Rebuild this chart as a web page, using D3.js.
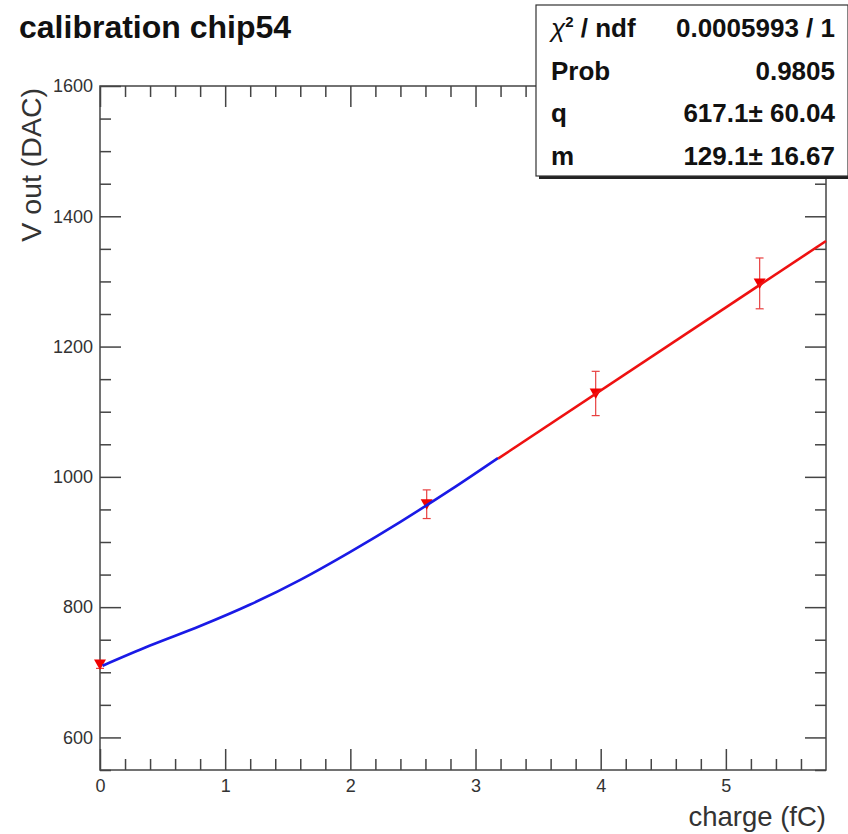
<!DOCTYPE html>
<html>
<head>
<meta charset="utf-8">
<script src="https://cdn.jsdelivr.net/npm/d3@7"></script>
<style>
  body { margin: 0; background: #fff; }
  svg { display: block; font-family: "Liberation Sans", Arial, Helvetica, sans-serif; }
</style>
</head>
<body>
<div id="chart"></div>
<script>
// measured points (charge in fC, Vout in DAC)
const pointCharge = [0, 2.61, 3.96, 5.27];
const pointVout = [712, 958, 1128, 1297];
const pointErr = [6, 22, 34, 39];

// low range fit (blue curve)
const blueCharge = [0.02, 0.4, 0.8, 1.2, 1.6, 2.0, 2.4, 2.8, 3.18];
const blueVout = [710, 741, 771, 804, 842, 885, 931, 980, 1029];

// linear fit q + m*x (red line)
const redCharge = [3.18, 5.8];
const redVout = [1028, 1362];

const xMajor = [0, 1, 2, 3, 4, 5];
const yMajor = [600, 800, 1000, 1200, 1400, 1600];

const statLabels = ["/ ndf", "Prob", "q", "m"];
const statValues = ["0.0005993 / 1", "0.9805", "617.1\u00b1 60.04", "129.1\u00b1 16.67"];

const width = 848, height = 834;
const frame = { left: 100, right: 826, top: 86, bottom: 770 };

const svg = d3.select("#chart").append("svg")
  .attr("width", width)
  .attr("height", height);

const x = d3.scaleLinear().domain([0, 5.8]).range([frame.left, frame.right]);
const y = d3.scaleLinear().domain([550, 1600]).range([frame.bottom, frame.top]);

const xMinor = d3.range(0, 5.8, 0.2).filter(v => Math.abs(v - Math.round(v)) > 1e-6);
const yMinor = d3.range(550, 1601, 50).filter(v => v % 200 !== 0);

const axisColor = "#444";

// frame
svg.append("rect")
  .attr("x", frame.left).attr("y", frame.top)
  .attr("width", frame.right - frame.left)
  .attr("height", frame.bottom - frame.top)
  .attr("fill", "none")
  .attr("stroke", axisColor)
  .attr("stroke-width", 1.5);

function styleAxis(g) {
  g.select(".domain").remove();
  g.selectAll(".tick line").attr("stroke", axisColor).attr("stroke-width", 1.5);
  g.selectAll(".tick text")
    .attr("fill", "#333")
    .style("font-size", "18px");
}

// bottom
svg.append("g").attr("transform", `translate(0,${frame.bottom})`)
  .call(d3.axisBottom(x).tickValues(xMajor).tickSize(-21).tickPadding(9).tickFormat(d3.format("d")))
  .call(styleAxis);
svg.append("g").attr("transform", `translate(0,${frame.bottom})`)
  .call(d3.axisBottom(x).tickValues(xMinor).tickSize(-11).tickFormat(""))
  .call(styleAxis);
// top
svg.append("g").attr("transform", `translate(0,${frame.top})`)
  .call(d3.axisTop(x).tickValues(xMajor).tickSize(-21).tickFormat(""))
  .call(styleAxis);
svg.append("g").attr("transform", `translate(0,${frame.top})`)
  .call(d3.axisTop(x).tickValues(xMinor).tickSize(-11).tickFormat(""))
  .call(styleAxis);
// left
svg.append("g").attr("transform", `translate(${frame.left},0)`)
  .call(d3.axisLeft(y).tickValues(yMajor).tickSize(-21).tickPadding(7).tickFormat(d3.format("d")))
  .call(styleAxis);
svg.append("g").attr("transform", `translate(${frame.left},0)`)
  .call(d3.axisLeft(y).tickValues(yMinor).tickSize(-11).tickFormat(""))
  .call(styleAxis);
// right
svg.append("g").attr("transform", `translate(${frame.right},0)`)
  .call(d3.axisRight(y).tickValues(yMajor).tickSize(-21).tickFormat(""))
  .call(styleAxis);
svg.append("g").attr("transform", `translate(${frame.right},0)`)
  .call(d3.axisRight(y).tickValues(yMinor).tickSize(-11).tickFormat(""))
  .call(styleAxis);

// axis titles
svg.append("text")
  .attr("x", frame.right).attr("y", 826)
  .attr("text-anchor", "end")
  .attr("fill", "#333")
  .style("font-size", "27.5px")
  .text("charge (fC)");

svg.append("text")
  .attr("transform", `translate(41,${frame.top + 2}) rotate(-90)`)
  .attr("text-anchor", "end")
  .attr("fill", "#333")
  .style("font-size", "28.5px")
  .text("V out (DAC)");

// title
svg.append("text")
  .attr("x", 19).attr("y", 38)
  .attr("fill", "#111")
  .style("font-size", "32px")
  .style("font-weight", "bold")
  .text("calibration chip54");

// data points with error bars
const points = pointCharge.map((c, i) => ({ c: c, v: pointVout[i], e: pointErr[i] }));
const red = "#f00000";

const pg = svg.append("g");
pg.selectAll("line.err")
  .data(points)
  .join("line")
  .attr("class", "err")
  .attr("x1", d => x(d.c)).attr("x2", d => x(d.c))
  .attr("y1", d => y(d.v - d.e)).attr("y2", d => y(d.v + d.e))
  .attr("stroke", "#e84040").attr("stroke-width", 1.2);
[-1, 1].forEach(s => {
  pg.selectAll("line.cap" + (s + 1))
    .data(points)
    .join("line")
    .attr("class", "cap" + (s + 1))
    .attr("x1", d => x(d.c) - 4).attr("x2", d => x(d.c) + 4)
    .attr("y1", d => y(d.v + s * d.e)).attr("y2", d => y(d.v + s * d.e))
    .attr("stroke", "#e84040").attr("stroke-width", 1.2);
});
pg.selectAll("path.marker")
  .data(points)
  .join("path")
  .attr("class", "marker")
  .attr("transform", d => `translate(${x(d.c)},${y(d.v)})`)
  .attr("d", "M-6,-5 L6,-5 L0,5.5 Z")
  .attr("fill", red);

// fit curves
const line = d3.line().x(d => x(d[0])).y(d => y(d[1])).curve(d3.curveMonotoneX);

svg.append("path")
  .datum(blueCharge.map((c, i) => [c, blueVout[i]]))
  .attr("d", line)
  .attr("fill", "none")
  .attr("stroke", "#1a1ae6")
  .attr("stroke-width", 2.6);

svg.append("path")
  .datum(redCharge.map((c, i) => [c, redVout[i]]))
  .attr("d", line)
  .attr("fill", "none")
  .attr("stroke", "#ee1111")
  .attr("stroke-width", 2.6);

// stats box
const box = { x: 536, y: 5, w: 312, h: 171 };
svg.append("rect")
  .attr("x", box.x + 3).attr("y", box.y + 3)
  .attr("width", box.w).attr("height", box.h)
  .attr("fill", "#222");
svg.append("rect")
  .attr("x", box.x).attr("y", box.y)
  .attr("width", box.w).attr("height", box.h)
  .attr("fill", "#fff")
  .attr("stroke", "#333")
  .attr("stroke-width", 1.2);

const rowY = [37, 80, 122, 165];
const sg = svg.append("g")
  .style("font-size", "26px")
  .style("font-weight", "bold")
  .attr("fill", "#111");

statLabels.forEach((lab, i) => {
  const t = sg.append("text").attr("x", 551).attr("y", rowY[i]);
  if (i === 0) {
    t.append("tspan").style("font-style", "italic").style("font-weight", "normal").text("\u03c7");
    t.append("tspan").attr("dy", -10).style("font-size", "15px").text("2");
    t.append("tspan").attr("dy", 10).text(" " + lab);
  } else {
    t.text(lab);
  }
});

sg.selectAll("text.val")
  .data(statValues)
  .join("text")
  .attr("class", "val")
  .attr("x", 835)
  .attr("y", (d, i) => rowY[i])
  .attr("text-anchor", "end")
  .text(d => d);
</script>
</body>
</html>
